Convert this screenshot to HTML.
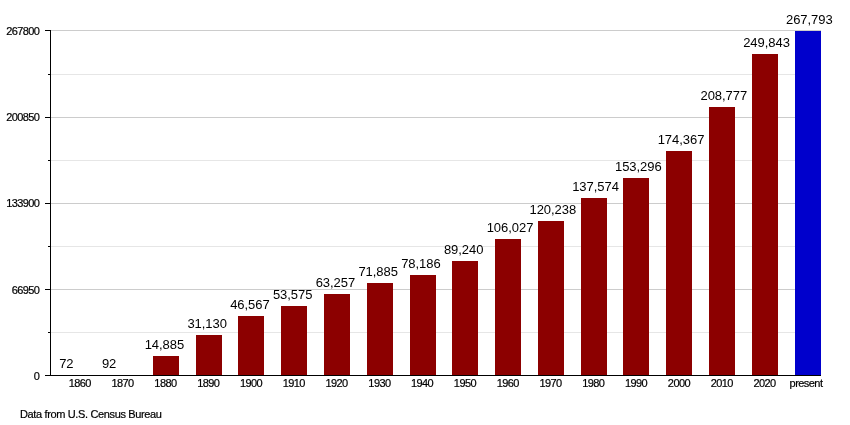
<!DOCTYPE html>
<html><head><meta charset="utf-8"><title>Population chart</title>
<style>
html,body{margin:0;padding:0;background:#fff;}
svg{display:block;}
text{font-family:"Liberation Sans",Arial,Helvetica,sans-serif;fill:#000;}
.ax,.ft{stroke:#000;stroke-width:0.2px;}
.ax{font-size:11px;letter-spacing:-0.6px;}
.v{font-size:13px;letter-spacing:-0.05px;}
.ft{font-size:11px;letter-spacing:-0.36px;}
</style></head><body>
<svg width="850" height="425" viewBox="0 0 850 425">
<rect width="850" height="425" fill="#fff"/>
<g shape-rendering="crispEdges">
<rect x="51" y="30" width="770" height="1" fill="#cccccc"/>
<rect x="51" y="74" width="770" height="1" fill="#e6e6e6"/>
<rect x="51" y="117" width="770" height="1" fill="#cccccc"/>
<rect x="51" y="160" width="770" height="1" fill="#e6e6e6"/>
<rect x="51" y="203" width="770" height="1" fill="#cccccc"/>
<rect x="51" y="246" width="770" height="1" fill="#e6e6e6"/>
<rect x="51" y="289" width="770" height="1" fill="#cccccc"/>
<rect x="51" y="332" width="770" height="1" fill="#e6e6e6"/>
<rect x="153" y="356" width="26" height="19" fill="#8c0000"/>
<rect x="196" y="335" width="26" height="40" fill="#8c0000"/>
<rect x="238" y="316" width="26" height="59" fill="#8c0000"/>
<rect x="281" y="306" width="26" height="69" fill="#8c0000"/>
<rect x="324" y="294" width="26" height="81" fill="#8c0000"/>
<rect x="367" y="283" width="26" height="92" fill="#8c0000"/>
<rect x="410" y="275" width="26" height="100" fill="#8c0000"/>
<rect x="452" y="261" width="26" height="114" fill="#8c0000"/>
<rect x="495" y="239" width="26" height="136" fill="#8c0000"/>
<rect x="538" y="221" width="26" height="154" fill="#8c0000"/>
<rect x="581" y="198" width="26" height="177" fill="#8c0000"/>
<rect x="623" y="178" width="26" height="197" fill="#8c0000"/>
<rect x="666" y="151" width="26" height="224" fill="#8c0000"/>
<rect x="709" y="107" width="26" height="268" fill="#8c0000"/>
<rect x="752" y="54" width="26" height="321" fill="#8c0000"/>
<rect x="795" y="31" width="26" height="344" fill="#0000cc"/>
<rect x="50" y="30" width="1" height="346" fill="#000"/>
<rect x="45" y="375" width="776" height="1" fill="#000"/>
<rect x="45" y="30" width="5" height="1" fill="#000"/>
<rect x="48" y="74" width="2" height="1" fill="#000"/>
<rect x="45" y="117" width="5" height="1" fill="#000"/>
<rect x="48" y="160" width="2" height="1" fill="#000"/>
<rect x="45" y="203" width="5" height="1" fill="#000"/>
<rect x="48" y="246" width="2" height="1" fill="#000"/>
<rect x="45" y="289" width="5" height="1" fill="#000"/>
<rect x="48" y="332" width="2" height="1" fill="#000"/>
<rect x="45" y="375" width="5" height="1" fill="#000"/>
</g>
<text class="ax" x="39.4" y="34.90" text-anchor="end">267800</text>
<text class="ax" x="39.4" y="121.15" text-anchor="end">200850</text>
<text class="ax" x="39.4" y="207.40" text-anchor="end">133900</text>
<text class="ax" x="39.4" y="293.65" text-anchor="end">66950</text>
<text class="ax" x="39.4" y="379.90" text-anchor="end">0</text>
<text class="ax" x="79.8" y="387" text-anchor="middle">1860</text>
<text class="v" x="59.2" y="368.0">72</text>
<text class="ax" x="122.6" y="387" text-anchor="middle">1870</text>
<text class="v" x="101.9" y="368.0">92</text>
<text class="ax" x="165.4" y="387" text-anchor="middle">1880</text>
<text class="v" x="144.7" y="349.0">14,885</text>
<text class="ax" x="208.2" y="387" text-anchor="middle">1890</text>
<text class="v" x="187.4" y="328.0">31,130</text>
<text class="ax" x="251.0" y="387" text-anchor="middle">1900</text>
<text class="v" x="230.2" y="309.0">46,567</text>
<text class="ax" x="293.8" y="387" text-anchor="middle">1910</text>
<text class="v" x="272.9" y="299.0">53,575</text>
<text class="ax" x="336.6" y="387" text-anchor="middle">1920</text>
<text class="v" x="315.7" y="287.0">63,257</text>
<text class="ax" x="379.4" y="387" text-anchor="middle">1930</text>
<text class="v" x="358.4" y="276.0">71,885</text>
<text class="ax" x="422.1" y="387" text-anchor="middle">1940</text>
<text class="v" x="401.2" y="268.0">78,186</text>
<text class="ax" x="464.9" y="387" text-anchor="middle">1950</text>
<text class="v" x="443.9" y="254.0">89,240</text>
<text class="ax" x="507.7" y="387" text-anchor="middle">1960</text>
<text class="v" x="486.7" y="232.0">106,027</text>
<text class="ax" x="550.5" y="387" text-anchor="middle">1970</text>
<text class="v" x="529.5" y="214.0">120,238</text>
<text class="ax" x="593.3" y="387" text-anchor="middle">1980</text>
<text class="v" x="572.2" y="191.0">137,574</text>
<text class="ax" x="636.1" y="387" text-anchor="middle">1990</text>
<text class="v" x="615.0" y="171.0">153,296</text>
<text class="ax" x="678.9" y="387" text-anchor="middle">2000</text>
<text class="v" x="657.7" y="144.0">174,367</text>
<text class="ax" x="721.7" y="387" text-anchor="middle">2010</text>
<text class="v" x="700.5" y="100.0">208,777</text>
<text class="ax" x="764.5" y="387" text-anchor="middle">2020</text>
<text class="v" x="743.2" y="47.0">249,843</text>
<text class="ax" x="806.0" y="387" text-anchor="middle" style="letter-spacing:-0.55px">present</text>
<text class="v" x="786.0" y="24.0">267,793</text>
<text class="ft" x="20" y="418">Data from U.S. Census Bureau</text>
</svg></body></html>
